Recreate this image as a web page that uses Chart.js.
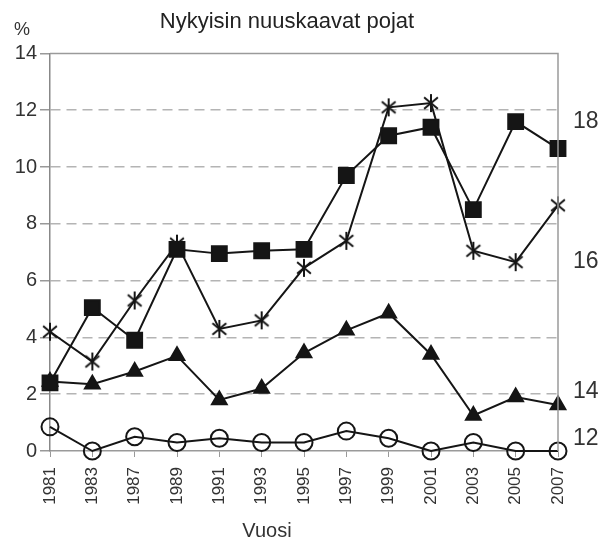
<!DOCTYPE html>
<html>
<head>
<meta charset="utf-8">
<script src="https://cdn.jsdelivr.net/npm/chart.js@4/dist/chart.umd.min.js"></script>
<style>
  body { margin: 0; background: #fff; }
  canvas { display: block; }
</style>
</head>
<body>
<canvas id="chart" width="604" height="543"></canvas>
<script>
// Nykyisin nuuskaavat pojat (%), by age group
const years = ['1981', '1983', '1987', '1989', '1991', '1993', '1995', '1997', '1999', '2001', '2003', '2005', '2007'];
const age18 = [2.4, 5.05, 3.9, 7.1, 6.95, 7.05, 7.1, 9.7, 11.1, 11.4, 8.5, 11.6, 10.65];
const age16 = [4.2, 3.15, 5.3, 7.3, 4.3, 4.6, 6.45, 7.4, 12.1, 12.25, 7.05, 6.65, 8.65];
const age14 = [2.45, 2.35, 2.8, 3.35, 1.8, 2.2, 3.45, 4.25, 4.85, 3.4, 1.25, 1.9, 1.62];
const age12 = [0.85, 0.0, 0.5, 0.3, 0.45, 0.3, 0.3, 0.7, 0.45, 0.0, 0.3, 0.0, 0.0];
const ageLabels = ['18', '16', '14', '12'];
const yTicks = [0, 2, 4, 6, 8, 10, 12, 14];

const ink = '#151515';
const font = 'Arial, "Liberation Sans", sans-serif';

// asterisk marker: vertical stroke plus two diagonals
function makeStar(size) {
    const c = document.createElement('canvas');
    c.width = c.height = size;
    const g = c.getContext('2d');
    const m = size / 2, r = size / 2 - 1;
    g.strokeStyle = ink;
    g.lineWidth = 2;
    g.beginPath();
    [90, 40, 140].forEach(function (a) {
        const rad = a * Math.PI / 180;
        g.moveTo(m + r * Math.cos(rad), m - r * Math.sin(rad));
        g.lineTo(m - r * Math.cos(rad), m + r * Math.sin(rad));
    });
    g.stroke();
    return c;
}

// frame, free texts and the age tags on the right
const extras = {
    id: 'extras',
    afterDraw(chart) {
        const ctx = chart.ctx;
        const a = chart.chartArea;
        const y = chart.scales.y;
        ctx.save();
        ctx.strokeStyle = '#9a9a9a';
        ctx.lineWidth = 1.5;
        ctx.beginPath();
        ctx.moveTo(a.left, a.top);
        ctx.lineTo(a.right, a.top);
        ctx.lineTo(a.right, a.bottom);
        ctx.stroke();

        ctx.fillStyle = '#333';
        ctx.textBaseline = 'middle';
        ctx.textAlign = 'center';
        ctx.font = '18px ' + font;
        ctx.fillText('%', 22, 30);
        ctx.font = '20px ' + font;
        ctx.fillText('Vuosi', 267, 531);

        ctx.textAlign = 'left';
        ctx.font = '23px ' + font;
        const tagAt = [11.6, 6.65, 2.1, 0.45];
        ageLabels.forEach(function (t, i) {
            ctx.fillText(t, a.right + 15, y.getPixelForValue(tagAt[i]));
        });
        ctx.restore();
    }
};

function series(label, data, style, radius, fill) {
    return {
        label: label,
        data: data,
        borderColor: ink,
        borderWidth: 2,
        pointStyle: style,
        pointRadius: radius,
        pointHoverRadius: radius,
        pointBackgroundColor: fill,
        pointBorderColor: ink,
        pointBorderWidth: 2,
        tension: 0,
        fill: false,
        clip: false
    };
}

new Chart(document.getElementById('chart'), {
    type: 'line',
    data: {
        labels: years,
        datasets: [
            series('18', age18, 'rect', 10.5, ink),
            series('16', age16, makeStar(20), 10, ink),
            series('14', age14, 'triangle', 8.5, ink),
            series('12', age12, 'circle', 8.5, 'rgba(255,255,255,0)')
        ]
    },
    options: {
        responsive: false,
        animation: false,
        layout: { padding: { left: 16, right: 46, top: 0, bottom: 0 } },
        plugins: {
            legend: { display: false },
            tooltip: { enabled: false },
            title: {
                display: true,
                text: 'Nykyisin nuuskaavat pojat',
                color: '#222',
                font: { family: font, size: 22, weight: 'normal' },
                padding: { top: 9, bottom: 18 }
            }
        },
        scales: {
            x: {
                offset: false,
                afterFit: function (s) { s.height = 92; },
                grid: {
                    drawOnChartArea: false,
                    drawTicks: true,
                    tickLength: 6,
                    color: '#999',
                    tickColor: '#999'
                },
                border: { display: true, color: '#9a9a9a', width: 1.5 },
                ticks: {
                    autoSkip: false,
                    minRotation: 90,
                    maxRotation: 90,
                    padding: 10,
                    color: '#333',
                    font: { family: font, size: 17 }
                }
            },
            y: {
                min: 0,
                max: 14,
                afterFit: function (s) { s.width = 34; },
                afterBuildTicks: function (s) {
                    s.ticks = yTicks.map(function (v) { return { value: v }; });
                },
                grid: {
                    color: function (c) {
                        return (c.tick && (c.tick.value === 0 || c.tick.value === 14)) ? 'rgba(0,0,0,0)' : '#b4b4b4';
                    },
                    tickColor: '#999',
                    tickLength: 10,
                    lineWidth: 1.5
                },
                border: { display: true, color: '#888', width: 1.5, dash: [10, 6] },
                ticks: {
                    padding: 3,
                    color: '#333',
                    font: { family: font, size: 20 }
                }
            }
        }
    },
    plugins: [extras]
});
</script>
</body>
</html>
